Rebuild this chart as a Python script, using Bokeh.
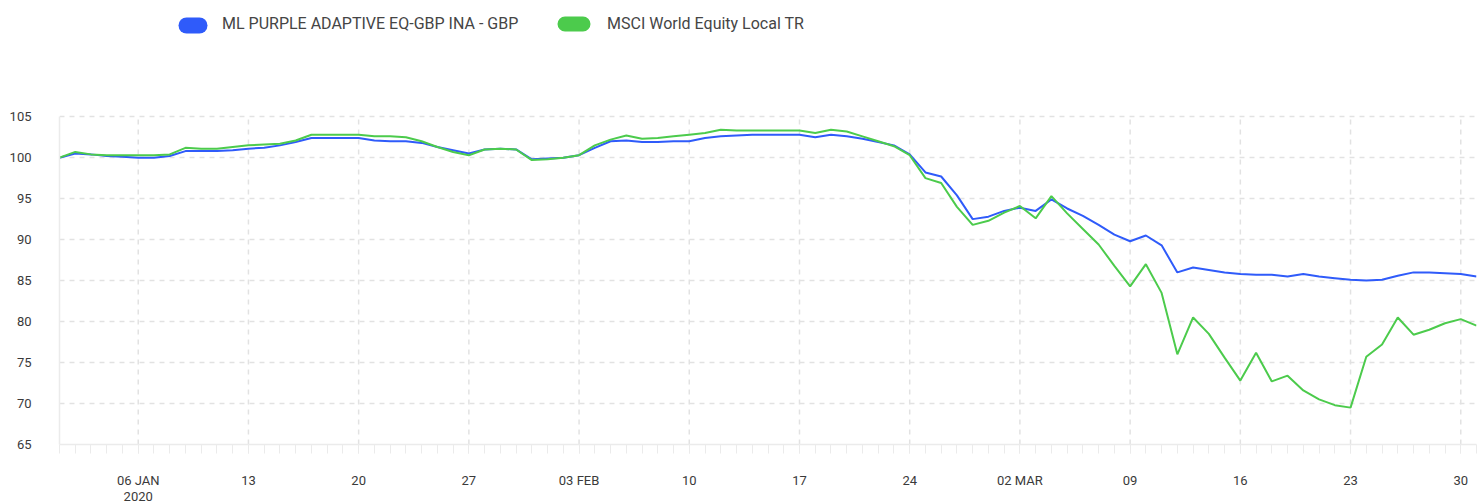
import pandas as pd
from bokeh.plotting import figure
from bokeh.models import (Range1d, FixedTicker, Legend, LegendItem, ColumnDataSource,
                          DatetimeAxis, BoxAnnotation)
from bokeh.embed import file_html
from bokeh.resources import INLINE

# ---------------- data ----------------
start_date = "2020-01-01"
end_date = "2020-03-31"
dates = pd.date_range(start_date, end_date, freq="D")

series_names = ["ML PURPLE ADAPTIVE EQ-GBP INA - GBP", "MSCI World Equity Local TR"]

fund = [
    100.0, 100.5, 100.4, 100.2, 100.1, 100.0, 100.0, 100.2, 100.8, 100.8,
    100.8, 100.9, 101.1, 101.2, 101.5, 101.9, 102.4, 102.4, 102.4, 102.4,
    102.1, 102.0, 102.0, 101.8, 101.3, 100.9, 100.5, 101.0, 101.1, 101.0,
    99.8, 99.9, 100.0, 100.3, 101.2, 102.0, 102.1, 101.9, 101.9, 102.0,
    102.0, 102.4, 102.6, 102.7, 102.8, 102.8, 102.8, 102.8, 102.5, 102.8,
    102.6, 102.3, 101.9, 101.5, 100.4, 98.2, 97.7, 95.4, 92.5, 92.8,
    93.5, 93.9, 93.5, 94.9, 93.8, 92.9, 91.8, 90.6, 89.8, 90.5,
    89.3, 86.0, 86.6, 86.3, 86.0, 85.8, 85.7, 85.7, 85.5, 85.8,
    85.5, 85.3, 85.1, 85.0, 85.1, 85.6, 86.0, 86.0, 85.9, 85.8,
    85.5,
]

bench = [
    100.0, 100.7, 100.4, 100.3, 100.3, 100.3, 100.3, 100.4, 101.2, 101.1,
    101.1, 101.3, 101.5, 101.6, 101.7, 102.1, 102.8, 102.8, 102.8, 102.8,
    102.6, 102.6, 102.5, 102.0, 101.3, 100.7, 100.3, 101.0, 101.1, 101.0,
    99.7, 99.8, 100.0, 100.3, 101.5, 102.2, 102.7, 102.3, 102.4, 102.6,
    102.8, 103.0, 103.4, 103.3, 103.3, 103.3, 103.3, 103.3, 103.0, 103.4,
    103.2, 102.6, 102.0, 101.4, 100.3, 97.5, 96.9, 94.0, 91.8, 92.3,
    93.3, 94.1, 92.6, 95.3, 93.2, 91.3, 89.4, 86.8, 84.3, 87.0,
    83.5, 76.0, 80.5, 78.5, 75.6, 72.8, 76.2, 72.7, 73.4, 71.6,
    70.5, 69.8, 69.5, 75.7, 77.2, 80.5, 78.4, 79.0, 79.8, 80.3,
    79.5,
]

tick_dates = ["2020-01-06", "2020-01-13", "2020-01-20", "2020-01-27",
              "2020-02-03", "2020-02-10", "2020-02-17", "2020-02-24",
              "2020-03-02", "2020-03-09", "2020-03-16", "2020-03-23",
              "2020-03-30"]
tick_labels = ["06 JAN", "13", "20", "27", "03 FEB", "10", "17", "24",
               "02 MAR", "09", "16", "23", "30"]
year_label = "2020"
y_ticks = [65, 70, 75, 80, 85, 90, 95, 100, 105]

# ---------------- style ----------------
BLUE = "#2F5BFA"
GREEN = "#4CCB4C"
GRID = "#e2e2e2"
AXIS = "#ebebeb"
TEXT = "#3a3a3a"
FONT = "Roboto"


def to_ms(d):
    return pd.Timestamp(d).value // 10**6


tick_ms = [to_ms(d) for d in tick_dates]
day_ms = [to_ms(d) for d in dates]
y_lo, y_hi = y_ticks[0], y_ticks[-1]

src = ColumnDataSource(dict(date=dates, fund=fund, bench=bench))
grid_src = ColumnDataSource(dict(x=tick_ms, y0=[y_lo] * len(tick_ms),
                                 y1=[y_hi] * len(tick_ms)))

p = figure(width=1481, height=504, x_axis_type="datetime",
           output_backend="svg", toolbar_location=None,
           x_range=Range1d(dates[0], dates[-1]), y_range=Range1d(65, 118.2),
           min_border_left=59, min_border_right=5,
           min_border_top=8, min_border_bottom=60)
p.outline_line_color = None
p.background_fill_color = "white"
p.border_fill_color = "white"

# vertical dashed grid lines (limited to the value span, like the reference)
p.xgrid.visible = False
p.segment(x0="x", y0="y0", x1="x", y1="y1", source=grid_src,
          line_color=GRID, line_width=1.5, line_dash="5 5")
p.ygrid.grid_line_color = GRID
p.ygrid.grid_line_dash = "5 5"
p.ygrid.grid_line_width = 1.5

p.line("date", "fund", source=src, color=BLUE, line_width=2)
p.line("date", "bench", source=src, color=GREEN, line_width=2)

# axes
xa = p.xaxis[0]
xa.ticker = FixedTicker(ticks=tick_ms, minor_ticks=day_ms)
xa.major_label_overrides = {t: lab for t, lab in zip(tick_ms, tick_labels)}
xa.axis_line_color = AXIS
xa.axis_line_width = 1.5
xa.major_tick_line_color = AXIS
xa.major_tick_in = 0
xa.major_tick_out = 9
xa.minor_tick_line_color = AXIS
xa.minor_tick_in = 0
xa.minor_tick_out = 9
xa.major_label_standoff = 19
xa.major_label_text_font = FONT
xa.major_label_text_font_size = "13px"
xa.major_label_text_color = TEXT

# second row of x labels (year)
xa2 = DatetimeAxis(ticker=FixedTicker(ticks=[tick_ms[0]]),
                   major_label_overrides={tick_ms[0]: year_label},
                   axis_line_color=None, major_tick_line_color=None,
                   minor_tick_line_color=None, major_tick_out=0, minor_tick_out=0,
                   major_label_standoff=1,
                   major_label_text_font=FONT, major_label_text_font_size="13px",
                   major_label_text_color=TEXT)
p.add_layout(xa2, "below")

ya = p.yaxis[0]
ya.ticker = FixedTicker(ticks=y_ticks)
ya.bounds = (y_lo, y_hi)
ya.axis_line_color = AXIS
ya.axis_line_width = 1.5
ya.major_tick_line_color = None
ya.minor_tick_line_color = None
ya.major_label_standoff = 22
ya.major_label_text_font = FONT
ya.major_label_text_font_size = "13px"
ya.major_label_text_color = TEXT

# legend texts (glyphs transparent; pill swatches drawn as rounded boxes)
sw1 = p.line("date", "fund", source=src, line_alpha=0, visible=False)
sw2 = p.line("date", "bench", source=src, line_alpha=0, visible=False)

legend_specs = [(sw1, series_names[0], (126, 411), 14, 23),
                (sw2, series_names[1], (505, 411), 18, 25)]
for rend, name, loc, gw, standoff in legend_specs:
    leg = Legend(items=[LegendItem(label=name, renderers=[rend])],
                 location=loc, orientation="horizontal",
                 glyph_width=gw, glyph_height=16, label_standoff=standoff,
                 label_height=16, padding=0, margin=0, spacing=0,
                 border_line_color=None, background_fill_alpha=0,
                 inactive_fill_alpha=0,
                 label_text_font=FONT, label_text_font_size="16px",
                 label_text_color="#454545")
    p.add_layout(leg)

# pill swatches: (left, right, bottom, top) in screen px from the frame's bottom-left
pill_specs = [(BLUE, (119, 148, 411, 427)), (GREEN, (498, 531, 413, 428))]
for col, (l, r, b, t) in pill_specs:
    p.add_layout(BoxAnnotation(left=l, right=r, bottom=b, top=t,
                               left_units="screen", right_units="screen",
                               bottom_units="screen", top_units="screen",
                               fill_color=col, fill_alpha=1.0, line_color=None,
                               border_radius=8))

open("out.html", "w").write(file_html(p, INLINE))
